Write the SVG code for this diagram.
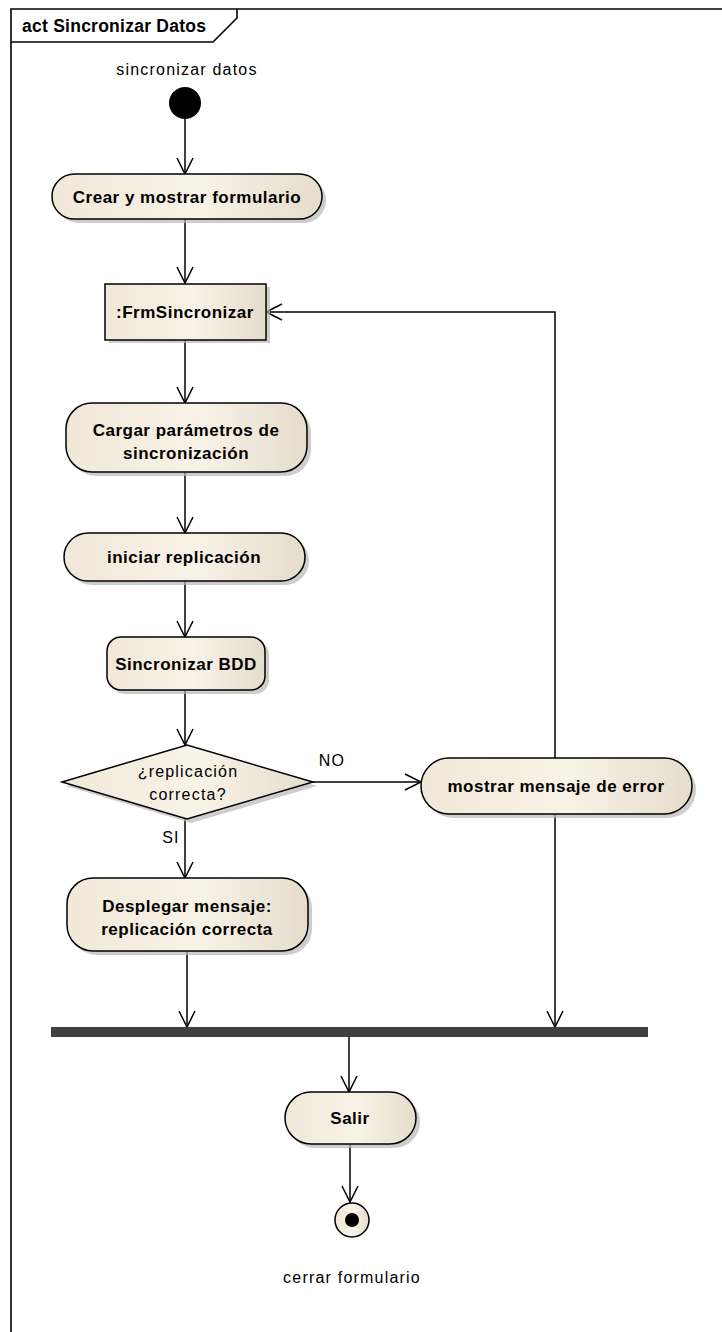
<svg xmlns="http://www.w3.org/2000/svg" width="722" height="1332" viewBox="0 0 722 1332">
  <defs>
    <linearGradient id="fillNode" x1="0" y1="0" x2="1" y2="0">
      <stop offset="0" stop-color="#f1e8d8"/>
      <stop offset="0.55" stop-color="#f9f2e7"/>
      <stop offset="1" stop-color="#e5dccb"/>
    </linearGradient>
    <marker id="openArrow" markerUnits="userSpaceOnUse" markerWidth="20" markerHeight="20" viewBox="-18 -10 20 20" refX="0" refY="0" orient="auto">
      <path d="M -16 -8 L 0 0 L -16 8" fill="none" stroke="#000" stroke-width="1.5"/>
    </marker>
  </defs>
  <style>
    .frame { fill: none; stroke: #000; stroke-width: 1.6; }
    .node { fill: url(#fillNode); stroke: #000; stroke-width: 1.5; }
    .shadow { fill: #b8b8b8; opacity: 0.7; }
    .edge { fill: none; stroke: #000; stroke-width: 1.5; marker-end: url(#openArrow); }
    .lbl { font-family: "Liberation Sans", Arial, sans-serif; font-weight: bold; font-size: 17px; letter-spacing: 0.5px; fill: #000; text-anchor: middle; }
    .txt { font-family: "Liberation Sans", Arial, sans-serif; font-size: 16px; fill: #000; text-anchor: middle; letter-spacing: 1.2px; }
  </style>

  <rect x="0" y="0" width="722" height="1332" fill="#fff"/>

  <!-- activity frame -->
  <g id="frame">
    <path class="frame" d="M 11 1332 L 11 9 L 722 9"/>
    <path class="frame" d="M 11 42 L 213 42 L 237 18 L 237 9"/>
    <text x="22" y="32" font-family="Liberation Sans, Arial, sans-serif" font-weight="bold" font-size="17.5" letter-spacing="0.25" fill="#000">act Sincronizar Datos</text>
  </g>

  <!-- connectors -->
  <g id="connectors">
    <path class="edge" d="M 185 119 L 185 174"/>
    <path class="edge" d="M 185 219 L 185 283"/>
    <path class="edge" d="M 185 340 L 185 403"/>
    <path class="edge" d="M 185 472 L 185 533"/>
    <path class="edge" d="M 185 581 L 185 637"/>
    <path class="edge" d="M 185 690 L 185 745"/>
    <path class="edge" d="M 313 782 L 421 782"/>
    <path class="edge" d="M 185 819 L 185 878"/>
    <path class="edge" d="M 555 758 L 555 312 L 266 312"/>
    <path class="edge" d="M 187 951 L 187 1027"/>
    <path class="edge" d="M 555 814 L 555 1027"/>
    <path class="edge" d="M 349 1037 L 349 1092"/>
    <path class="edge" d="M 350 1144 L 350 1202"/>
    <text class="txt" x="332" y="766">NO</text>
    <text class="txt" x="171" y="843">SI</text>
  </g>

  <!-- initial node -->
  <g id="start">
    <circle cx="185" cy="103" r="16" fill="#000"/>
    <text class="txt" x="187" y="75">sincronizar datos</text>
  </g>

  <g id="crear">
    <rect class="shadow" x="56" y="178" width="270" height="45" rx="22.5"/>
    <rect class="node" x="52" y="174" width="270" height="45" rx="22.5"/>
    <text class="lbl" x="187" y="203">Crear y mostrar formulario</text>
  </g>

  <g id="frmSincronizar">
    <rect class="shadow" x="109" y="287" width="161" height="56"/>
    <rect class="node" x="105" y="284" width="161" height="56"/>
    <text class="lbl" x="185" y="318">:FrmSincronizar</text>
  </g>

  <g id="cargar">
    <rect class="shadow" x="70" y="407" width="241" height="69" rx="26"/>
    <rect class="node" x="66" y="403" width="241" height="69" rx="26"/>
    <text class="lbl" x="186" y="436">Cargar parámetros de</text>
    <text class="lbl" x="186" y="459">sincronización</text>
  </g>

  <g id="iniciar">
    <rect class="shadow" x="68" y="537" width="241" height="48" rx="24"/>
    <rect class="node" x="64" y="533" width="241" height="48" rx="24"/>
    <text class="lbl" x="184" y="563">iniciar replicación</text>
  </g>

  <g id="sincronizarBDD">
    <rect class="shadow" x="111" y="641" width="158" height="53" rx="14"/>
    <rect class="node" x="107" y="637" width="158" height="53" rx="14"/>
    <text class="lbl" x="186" y="670">Sincronizar BDD</text>
  </g>

  <g id="decision">
    <polygon class="shadow" points="66,786 191,749 317,786 191,823"/>
    <polygon class="node" points="62,782 187,745 313,782 187,819"/>
    <text class="txt" x="188" y="777">¿replicación</text>
    <text class="txt" x="188" y="800">correcta?</text>
  </g>

  <g id="desplegar">
    <rect class="shadow" x="71" y="882" width="241" height="73" rx="26"/>
    <rect class="node" x="67" y="878" width="241" height="73" rx="26"/>
    <text class="lbl" x="187" y="912">Desplegar mensaje:</text>
    <text class="lbl" x="187" y="935">replicación correcta</text>
  </g>

  <g id="error">
    <rect class="shadow" x="425" y="762" width="271" height="56" rx="28"/>
    <rect class="node" x="421" y="758" width="271" height="56" rx="28"/>
    <text class="lbl" x="556" y="792">mostrar mensaje de error</text>
  </g>

  <g id="join">
    <rect x="51" y="1027" width="597" height="10" fill="#404040"/>
  </g>

  <g id="salir">
    <rect class="shadow" x="289" y="1096" width="131" height="52" rx="26"/>
    <rect class="node" x="285" y="1092" width="131" height="52" rx="26"/>
    <text class="lbl" x="350" y="1124">Salir</text>
  </g>

  <g id="final">
    <circle cx="352" cy="1220" r="17" fill="url(#fillNode)" stroke="#000" stroke-width="1.5"/>
    <circle cx="352" cy="1220" r="7" fill="#000"/>
    <text class="txt" x="352" y="1283">cerrar formulario</text>
  </g>
</svg>
